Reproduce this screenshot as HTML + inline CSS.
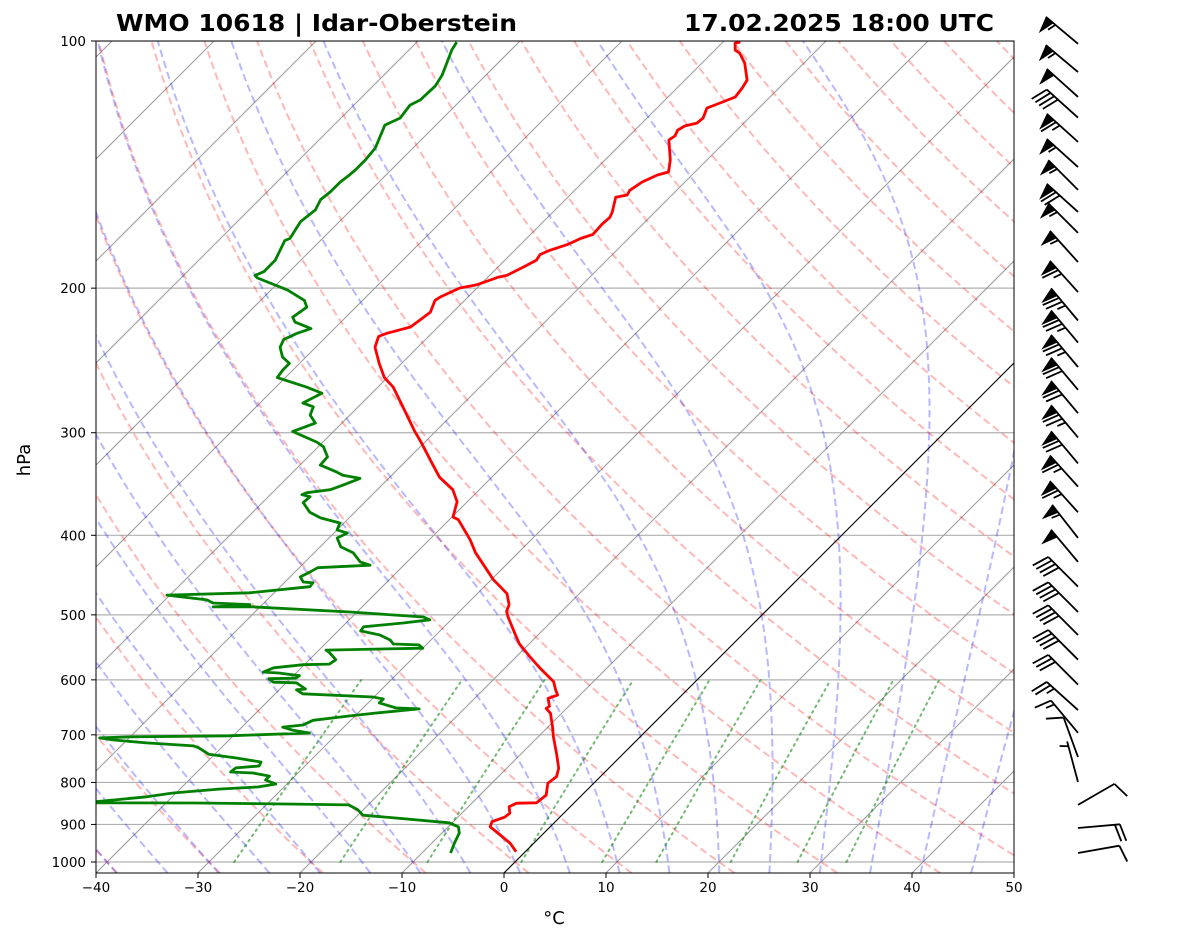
<!DOCTYPE html>
<html><head><meta charset="utf-8"><style>
html,body{margin:0;padding:0;background:#fff;}
svg{display:block;font-family:"DejaVu Sans","Liberation Sans",sans-serif;}
</style></head><body>
<svg id="chart" width="1181" height="941" viewBox="0 0 1181 941" xmlns="http://www.w3.org/2000/svg">
<defs><clipPath id="pc"><rect x="96" y="41" width="918" height="832"/></clipPath></defs>
<rect x="0" y="0" width="1181" height="941" fill="#fff"/>
<g id="bg" clip-path="url(#pc)"></g>
<g id="prof" clip-path="url(#pc)"></g>
<rect x="96" y="41" width="918" height="832" fill="none" stroke="#000" stroke-width="1"/>
<g id="axes"></g>
<g id="barbs"></g>
<text x="116" y="31" font-size="23" font-weight="bold" textLength="401" lengthAdjust="spacingAndGlyphs">WMO 10618 | Idar-Oberstein</text>
<text x="684" y="31" font-size="23" font-weight="bold" textLength="310" lengthAdjust="spacingAndGlyphs">17.02.2025 18:00 UTC</text>
<text x="554" y="924" font-size="18" text-anchor="middle">°C</text>
<text x="30" y="460" font-size="18" text-anchor="middle" transform="rotate(-90 30 460)">hPa</text>
</svg>
<script>
const tempP=[971.5,948.9,927,905.7,893,882,872,856,848,847,829,802,787,769,737,704,684,659,650,646,632,626,617,603,581,562,542,527,502,495,486,471,453,420,405,383,380,364,352,340,327,309,298,278,264,257,247,236,229,227,223,217.5,214,207,205,200,198,194,193,188.5,185,182,180,177,174,172,167,164,161.5,155,154,152,148.5,145.6,144.4,139.6,132,130.5,128.4,126.9,125.9,124.1,120.7,119,117,114.1,111.6,106.4,103.4,102.6,100.6,100.3];
const tempT=[-0.9,-2.3,-4.1,-5.9,-6.2,-5.4,-5.3,-6.0,-5.6,-3.7,-3.5,-4.5,-4.3,-4.9,-6.6,-8.5,-9.6,-11.1,-12.0,-11.9,-12.8,-12.2,-12.9,-13.9,-16.5,-18.7,-21.0,-22.4,-24.8,-25.4,-25.8,-27.1,-29.8,-34.2,-36.0,-39.1,-39.9,-41.0,-42.6,-45.1,-47.2,-50.2,-52.2,-55.8,-58.5,-60.3,-62.2,-64.2,-64.9,-64.4,-62.7,-62.4,-62.2,-62.9,-62.7,-61.7,-60.3,-59.0,-58.3,-57.5,-56.9,-57.1,-56.6,-55.4,-54.7,-53.9,-54.0,-53.9,-54.2,-55.3,-54.4,-54.6,-54.2,-53.4,-52.6,-53.6,-55.7,-55.5,-55.8,-55.5,-54.6,-54.5,-55.1,-54.3,-53.4,-53.6,-53.9,-55.8,-57.3,-58.0,-58.7,-58.3];
const dewP=[975,948,922,906,896,884,877,864,852,850,847.5,847,833,824,815,810,803.5,794.5,786,779,777,768,764,755.5,747,739,726,722,716,710,706,704,702,696.5,691,685,681,672,664,658.5,651,649,640,633,629.5,624,617,615.5,605,604,598,597,593,588.5,587,580,575,574,567,556,552,549,544,542.6,536.5,529,523,517,511.6,507,503,496,489,489,486,483.6,479.5,473,470,462,457,456,449.5,443,438,435,431,420,413,403,397.5,394,386.5,381,375,365,359,357,355,352,347.5,341,338,335,328.5,321,312,308,299,292,285.5,279,276,268.5,264,257,251.6,247,242.6,236,231,227,224,220,217,211,207,201,194.4,193,191,185,175,174,166,160.6,156,152.7,148.5,146,143.6,139.6,135,126.6,124.1,119.7,118,113.5,110,105.5,102.6,100.3];
const dewT=[-7.2,-7.8,-8.3,-9.0,-10.3,-16.0,-19.5,-20.5,-21.9,-27.2,-37.1,-48,-42.5,-40.3,-36.2,-32.5,-31.1,-32.5,-32.5,-34.4,-36.7,-36.6,-34.5,-34.7,-37.5,-40.6,-42.2,-42.9,-47.8,-51.4,-52.9,-50.1,-40.4,-32.8,-34.7,-36.0,-34.2,-33.7,-30.6,-28.2,-24.4,-26.8,-28.9,-28.9,-30.1,-37.3,-38.3,-37.5,-39.0,-41.3,-42.1,-39.5,-39.4,-41.7,-43.3,-42.7,-40.1,-37.6,-37.4,-38.7,-39.3,-30.0,-30.7,-33.3,-34.0,-35.5,-37.8,-37.9,-34.4,-32.1,-33.0,-40.7,-50.7,-54.6,-51.2,-55.0,-55.9,-60.3,-52.4,-47.1,-47.2,-48.2,-49.0,-48.5,-48.2,-43.3,-44.6,-46.2,-48.0,-49.2,-48.7,-50.0,-50.4,-52.8,-54.4,-56.0,-55.9,-56.9,-56.6,-54.6,-53.8,-52.8,-54.8,-55.7,-58.0,-58.1,-59.5,-60.6,-64.0,-62.6,-63.9,-64.4,-65.8,-64.9,-67.0,-70.8,-71.0,-71.0,-72.3,-73.5,-73.9,-73.2,-72.3,-74.5,-75.2,-74.8,-75.7,-78.4,-82.5,-83.0,-82.5,-82.5,-83.5,-83.2,-83.8,-83.5,-84.0,-83.8,-83.8,-83.6,-83.5,-83.5,-83.7,-85.0,-84.2,-84.5,-84.0,-83.9,-84.3,-85.2,-85.8,-86.1];
const windP=[100.8,109.1,117,124,132.7,142.4,151.8,161.5,171.3,185.9,202.2,219,233,249.5,266,284,304,327,349,375,403,431,462,496,529,567,608,653,696,745,799,852,909,975];
const windSpd=[55,55,50,40,65,55,55,70,55,55,65,75,75,75,70,70,75,70,65,65,55,50,40,40,40,40,30,25,15,10,5,10,20,10];
const windDir=[310,310,312,312,312,312,315,312,315,318,318,320,320,320,320,320,320,320,318,318,322,320,315,315,315,315,315,312,320,340,345,60,85,80];
const xTicks=[-40,-30,-20,-10,0,10,20,30,40,50];
const yTicks=[100,200,300,400,500,600,700,800,900,1000];
const dryT0=[-50,-40,-30,-20,-10,0,10,20,30,40,50,60,70,80,90,100,110,120,130,140,150,160,170,180,190,200];
const moistT0=[-40,-35,-30,-25,-20,-15,-10,-5,0,5,10,15,20,25,30,35,40,45];
const mixW=[0.0004,0.001,0.002,0.004,0.007,0.01,0.016,0.024,0.032];

const NS='http://www.w3.org/2000/svg';
const PTOP=100, PBOT=100*Math.pow(10,832/821);
function yP(p){return 41+821*Math.log10(p/100);}
function xT(T,p){return 504+10.2*T+(873-yP(p));}
function mk(tag,attrs,parent){const e=document.createElementNS(NS,tag);for(const k in attrs)e.setAttribute(k,attrs[k]);parent.appendChild(e);return e;}
function pathFrom(ps,ts){let d='';for(let i=0;i<ps.length;i++){d+=(i?'L':'M')+xT(ts[i],ps[i]).toFixed(1)+','+yP(ps[i]).toFixed(1);}return d;}
const bg=document.getElementById('bg'),prof=document.getElementById('prof'),axes=document.getElementById('axes'),barbs=document.getElementById('barbs');
function plist(a,b,n){const r=[];for(let i=0;i<=n;i++)r.push(a*Math.pow(b/a,i/n));return r;}

yTicks.forEach(p=>{const l=mk('line',{x1:96,x2:1014,y1:yP(p),y2:yP(p),stroke:'#b0b0b0','stroke-width':1.2},bg);

});
for(let T=-120;T<=50;T+=10){const l=mk('line',{x1:xT(T,PBOT),y1:873,x2:xT(T,PTOP),y2:41,stroke:'#999','stroke-width':1},bg);

}
const pl=plist(PBOT,PTOP,80);
dryT0.forEach(t0=>{const ts=pl.map(p=>(t0+273.15)*Math.pow(p/1000,0.2857)-273.15);
const e=mk('path',{d:pathFrom(pl,ts),fill:'none',stroke:'#ff0000','stroke-opacity':0.28,'stroke-width':2,'stroke-dasharray':'7.5 4'},bg);

});
function es(Tc){return 6.112*Math.exp(17.67*Tc/(Tc+243.5));}
function dTdp(p,T){const Rd=287.04,Lv=2.501e6,Cp=1005.7,eps=0.622;const e=es(T-273.15);const rs=eps*e/(p-e);
return (Rd*T+Lv*rs)/(Cp+Lv*Lv*rs*eps/(Rd*T*T))/p;}
function integ(T0,ps){const out=[T0];let T=T0;for(let i=1;i<ps.length;i++){const p=ps[i-1],h=ps[i]-p;
const k1=dTdp(p,T),k2=dTdp(p+h/2,T+h/2*k1),k3=dTdp(p+h/2,T+h/2*k2),k4=dTdp(p+h,T+h*k3);T+=h/6*(k1+2*k2+2*k3+k4);out.push(T);}return out;}
moistT0.forEach(t0=>{const up=plist(1000,PTOP,120),dn=[1000,PBOT];
const tu=integ(t0+273.15,up),td=integ(t0+273.15,dn);
const ps=[PBOT].concat(up),ts=[td[1]].concat(tu).map(t=>t-273.15);
const e=mk('path',{d:pathFrom(ps,ts),fill:'none',stroke:'#0000ff','stroke-opacity':0.28,'stroke-width':2,'stroke-dasharray':'7.5 4'},bg);

});
mixW.forEach(w=>{const ps=plist(1000,600,20);const ts=ps.map(p=>{const e=w*p/(0.622+w);const l=Math.log(e/6.112);return 243.5*l/(17.67-l);});
const e=mk('path',{d:pathFrom(ps,ts),fill:'none',stroke:'#008000','stroke-opacity':0.55,'stroke-width':2,'stroke-dasharray':'1.8 4.5','stroke-linecap':'round'},bg);

});
const z=mk('line',{x1:xT(0,PBOT),y1:873,x2:xT(0,PTOP),y2:41,stroke:'#000','stroke-width':1},bg);


const tl=mk('path',{d:pathFrom(tempP,tempT),fill:'none',stroke:'#ff0000','stroke-width':2.8,'stroke-linejoin':'round'},prof);


const dl=mk('path',{d:pathFrom(dewP,dewT),fill:'none',stroke:'#008000','stroke-width':2.8,'stroke-linejoin':'round'},prof);


xTicks.forEach(t=>{const x=504+10.2*t;mk('line',{x1:x,x2:x,y1:873,y2:878,stroke:'#000','stroke-width':1},axes);
const tx=mk('text',{x:x,y:892,'font-size':13.5,'text-anchor':'middle'},axes);tx.textContent=(t<0?'\u2212'+(-t):String(t));

});
yTicks.forEach(p=>{const y=yP(p);mk('line',{x1:91,x2:96,y1:y,y2:y,stroke:'#000','stroke-width':1},axes);
const tx=mk('text',{x:86,y:y+5,'font-size':13.5,'text-anchor':'end'},axes);tx.textContent=String(p);

});
const L=42;
windP.forEach((p,i)=>{const bx=1078,by=yP(p);const a=windDir[i]*Math.PI/180;
const u=[Math.sin(a),-Math.cos(a)];let perp=[-u[1],u[0]];if(perp[1]<0)perp=[-perp[0],-perp[1]];
const g=mk('g',{},barbs);


const ex=bx+u[0]*L,ey=by+u[1]*L;
mk('line',{x1:bx,y1:by,x2:ex,y2:ey,stroke:'#000','stroke-width':1.8},g);
let s=Math.round(windSpd[i]/5)*5;let pos=0;const H=17,W=10,SP=5;
while(s>=50){const p0=[ex-u[0]*pos,ey-u[1]*pos],p1=[ex-u[0]*(pos+W),ey-u[1]*(pos+W)],tip=[ex-u[0]*(pos+W/2)+perp[0]*H,ey-u[1]*(pos+W/2)+perp[1]*H];
mk('polygon',{points:p0.join(',')+' '+tip.join(',')+' '+p1.join(','),fill:'#000'},g);pos+=W+SP*0.5;s-=50;}
while(s>=10){const q=[ex-u[0]*pos,ey-u[1]*pos];mk('line',{x1:q[0],y1:q[1],x2:q[0]+perp[0]*H+u[0]*W/2,y2:q[1]+perp[1]*H+u[1]*W/2,stroke:'#000','stroke-width':1.8},g);pos+=SP;s-=10;}
if(s>=5){if(pos===0)pos=SP;const q=[ex-u[0]*pos,ey-u[1]*pos];mk('line',{x1:q[0],y1:q[1],x2:q[0]+perp[0]*H/2+u[0]*W/4,y2:q[1]+perp[1]*H/2+u[1]*W/4,stroke:'#000','stroke-width':1.8},g);}
});
</script>
</body></html>
